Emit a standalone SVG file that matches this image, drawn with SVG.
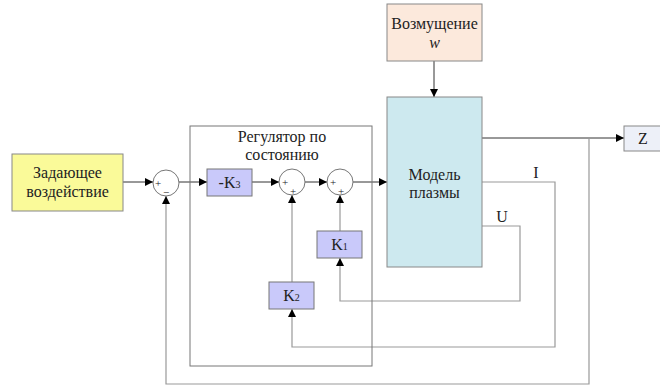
<svg xmlns="http://www.w3.org/2000/svg" width="660" height="385" viewBox="0 0 660 385" font-family="'Liberation Serif', 'DejaVu Serif', serif">
<style>
.t{font-size:16px;text-anchor:middle;fill:#222;}
.s{font-size:11px;text-anchor:middle;fill:#222;}
.box{stroke:#888;stroke-width:1;}
.k{fill:#c9c9fa;stroke:#777;stroke-width:1;}
.sum{fill:#fff;stroke:#777;stroke-width:1;}
.fw{fill:none;stroke:#333;stroke-width:1;}
.fb{fill:none;stroke:#999;stroke-width:1.2;}
</style>
<defs>
<marker id="a" viewBox="0 0 10 10" refX="10" refY="5" markerWidth="8" markerHeight="8" markerUnits="userSpaceOnUse" orient="auto">
<path d="M0,0 L10,5 L0,10 z" fill="#000"/>
</marker>
</defs>
<g id="connectors">
<line class="fw" x1="123" y1="182" x2="153" y2="182" marker-end="url(#a)"/>
<line class="fw" x1="179" y1="182" x2="207" y2="182" marker-end="url(#a)"/>
<line class="fw" x1="252" y1="182" x2="279" y2="182" marker-end="url(#a)"/>
<line class="fw" x1="305" y1="182" x2="327" y2="182" marker-end="url(#a)"/>
<line class="fw" x1="353" y1="182" x2="387" y2="182" marker-end="url(#a)"/>
<line class="fw" x1="434" y1="61" x2="434" y2="97" marker-end="url(#a)"/>
<line class="fw" x1="482" y1="138" x2="624" y2="138" marker-end="url(#a)"/>
<polyline class="fb" points="589,138 589,384 166,384 166,196" marker-end="url(#a)"/>
<polyline class="fb" points="482,182 555,182 555,347 292,347 292,309" marker-end="url(#a)"/>
<polyline class="fb" points="482,226 520,226 520,301 340,301 340,258" marker-end="url(#a)"/>
<line class="fb" x1="292" y1="282" x2="292" y2="195" marker-end="url(#a)"/>
<line class="fb" x1="340" y1="231" x2="340" y2="195" marker-end="url(#a)"/>
</g>
<g id="regulator">
<rect x="190" y="126" width="182" height="240" fill="none" stroke="#777" stroke-width="1"/>
<text class="t" x="282" y="142">Регулятор по</text>
<text class="t" x="282" y="160">состоянию</text>
</g>
<g id="setpoint">
<rect class="box" x="12" y="154" width="111" height="57" fill="#fafa99"/>
<text class="t" x="67.5" y="178">Задающее</text>
<text class="t" x="67.5" y="197">воздействие</text>
</g>
<g id="sum1">
<circle class="sum" cx="166" cy="183" r="13"/>
<text class="s" x="158" y="187">+</text>
<text class="s" x="166" y="196">−</text>
</g>
<g id="k3">
<rect class="k" x="207" y="169" width="45" height="27"/>
<text class="t" x="229.5" y="188">-K<tspan font-size="10">3</tspan></text>
</g>
<g id="sum2">
<circle class="sum" cx="292" cy="182" r="13"/>
<text class="s" x="285" y="186">+</text>
<text class="s" x="293" y="195">+</text>
</g>
<g id="sum3">
<circle class="sum" cx="340" cy="182" r="13"/>
<text class="s" x="333" y="186">+</text>
<text class="s" x="341" y="195">+</text>
</g>
<g id="k1">
<rect class="k" x="317" y="231" width="45" height="27"/>
<text class="t" x="339.5" y="250">K<tspan font-size="10">1</tspan></text>
</g>
<g id="k2">
<rect class="k" x="269" y="282" width="45" height="27"/>
<text class="t" x="291.5" y="301">K<tspan font-size="10">2</tspan></text>
</g>
<g id="disturbance">
<rect class="box" x="387" y="4" width="95" height="57" fill="#fce9dc"/>
<text class="t" x="434.5" y="29">Возмущение</text>
<text class="t" x="434.5" y="48" font-style="italic">w</text>
</g>
<g id="model">
<rect class="box" x="387" y="97" width="95" height="170" fill="#cde9ef"/>
<text class="t" x="434.5" y="180">Модель</text>
<text class="t" x="434.5" y="198">плазмы</text>
</g>
<g id="z">
<rect class="box" x="624" y="126" width="40" height="25" fill="#edf0f8"/>
<text class="t" x="643" y="144">Z</text>
</g>
<g id="labels">
<text class="t" x="536" y="178">I</text>
<text class="t" x="502" y="222">U</text>
</g>
</svg>
